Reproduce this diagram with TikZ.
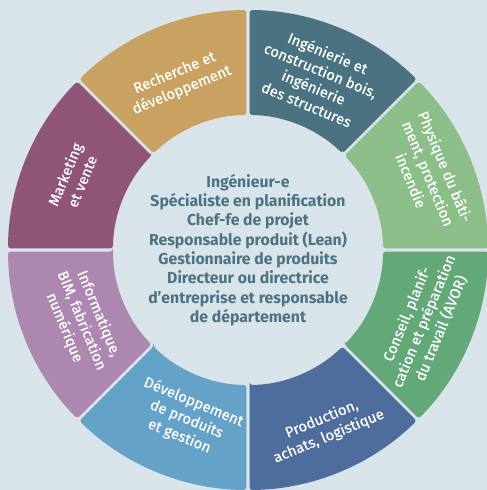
\documentclass[tikz,border=0pt]{standalone}
\usepackage{fontspec}
\setmainfont{Fira Sans}
\newfontfamily\segfont[FakeBold=0.5]{Fira Sans}
\definecolor{bg}{HTML}{D9E3EA}
\definecolor{ctan}{HTML}{C9A262}
\definecolor{cteal}{HTML}{4A7280}
\definecolor{clgreen}{HTML}{8BBE88}
\definecolor{cgreen}{HTML}{62A878}
\definecolor{cblue}{HTML}{4E6C9C}
\definecolor{clblue}{HTML}{64A2C8}
\definecolor{clilac}{HTML}{AC88B0}
\definecolor{cplum}{HTML}{8E5578}
\definecolor{ctext}{HTML}{4B7383}
\tikzset{
  seglabel/.style={text=white, align=center, font=\segfont\fontsize{14.8}{18.5}\selectfont, inner sep=0pt},
  centerlabel/.style={text=ctext, align=center, font=\fontsize{15.8}{19.3}\selectfont\bfseries, inner sep=0pt}
}
\newcommand{\mysector}[3]{% start angle, end angle, color
  \fill[#3, rounded corners=3pt]
    ({#1+0.64}:135) -- ({#1+0.36}:240)
    arc[start angle={#1+0.36}, end angle={#2-0.36}, radius=240]
    -- ({#2-0.64}:135)
    arc[start angle={#2-0.64}, end angle={#1+0.64}, radius=135] -- cycle;
}
\begin{document}
\begin{tikzpicture}[x=1pt,y=1pt]
\fill[bg] (-248,-240) rectangle (239,250);
\useasboundingbox (-248,-240) rectangle (239,250);
\mysector{90}{135}{ctan}
\mysector{45}{90}{cteal}
\mysector{0}{45}{clgreen}
\mysector{-45}{0}{cgreen}
\mysector{-90}{-45}{cblue}
\mysector{-135}{-90}{clblue}
\mysector{180}{225}{clilac}
\mysector{135}{180}{cplum}
\node[seglabel, rotate=22.5] (rd) at (112.5:182) {Recherche et\\développement};
\node[seglabel, rotate=-22.5] (ing) at (68:185) {Ingénierie et\\construction bois,\\ingénierie\\des structures};
\node[seglabel, rotate=-67.5] (phy) at (23:196) {Physique du bâti-\\ment, protection\\incendie};
\node[seglabel, rotate=67.5] (cons) at (-22:190) {Conseil, planif-\\cation et préparation\\du travail (AVOR)};
\node[seglabel, rotate=22.5] (prod) at (-66.5:194) {Production,\\achats, logistique};
\node[seglabel, rotate=-22.5] (dev) at (-110:180) {Développement\\de produits\\et gestion};
\node[seglabel, rotate=-67.5] (info) at (203:181) {Informatique,\\BIM, fabrication\\numérique};
\node[seglabel, rotate=67.5] (mark) at (157.5:189) {Marketing\\et vente};
\node[centerlabel] (c) at (0,0) {Ingénieur-e\\Spécialiste en planification\\Chef-fe de projet\\Responsable produit (Lean)\\Gestionnaire de produits\\Directeur ou directrice\\d’entreprise et responsable\\de département};
\end{tikzpicture}
\end{document}
